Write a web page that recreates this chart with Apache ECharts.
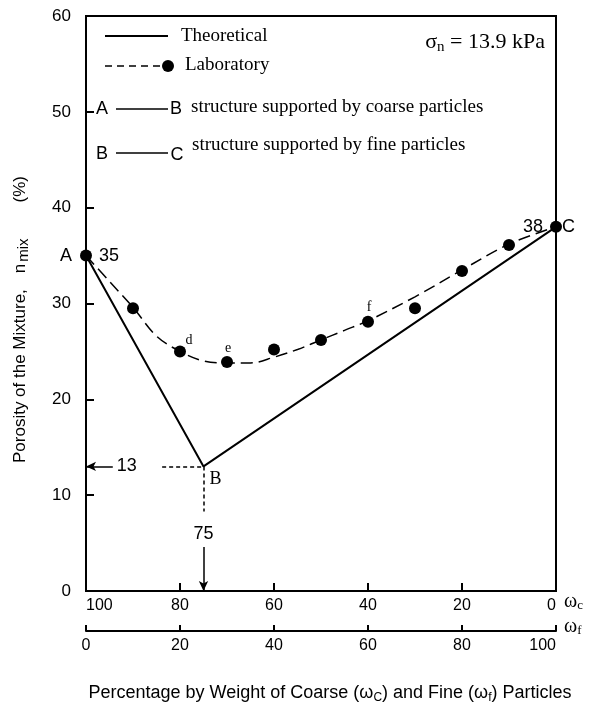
<!DOCTYPE html>
<html>
<head>
<meta charset="utf-8">
<script src="https://cdn.jsdelivr.net/npm/echarts@6/dist/echarts.min.js"></script>
<style>
  html, body { margin: 0; padding: 0; background: #fff; }
  #chart { width: 594px; height: 709px; }
</style>
</head>
<body>
<div id="chart"></div>
<script>
// Laboratory measurements: coarse fraction ω_c (%) against porosity n_mix (%)
const labCoarse   = [100, 90, 80, 70, 60, 50, 40, 30, 20, 10, 0];
const labPorosity = [35, 29.5, 25.0, 23.9, 25.2, 26.2, 28.1, 29.5, 33.4, 36.1, 38];

// Dashed trend drawn through the laboratory results
const trendCoarse   = [100, 95, 90, 85, 80, 75, 70, 65, 60, 55, 50, 45, 40, 30, 20, 10, 0];
const trendPorosity = [35, 32.3, 29.6, 26.6, 25.0, 24.0, 23.8, 23.8, 24.4, 25.2, 26.2, 27.2, 28.2, 30.7, 33.5, 36.2, 38];

// Theoretical bilinear model A -> B -> C
const theoryCoarse   = [100, 75, 0];
const theoryPorosity = [35, 13, 38];
const theoryNames    = ['A', 'B', 'C'];

// Tagged laboratory points (index into labCoarse)
const pointTags = [['d', 2], ['e', 3], ['f', 6]];

// Axis ranges: [min, max, interval]
const coarseRange   = [0, 100, 20];
const fineRange     = [0, 100, 20];
const porosityRange = [0, 60, 10];

const NARROW = '"Liberation Sans", Arial, sans-serif';
const SERIF  = '"Liberation Serif", "DejaVu Serif", serif';
const SANS   = '"Liberation Sans", Arial, sans-serif';
const narrowLabel = (size) => ({ fontFamily: NARROW, fontSize: size });

const chart = echarts.init(document.getElementById('chart'), null, { renderer: 'canvas' });

const B = [theoryCoarse[1], theoryPorosity[1]];

function tagPoint(name, coord, label) {
  return { name, coord, symbol: 'circle', symbolSize: 0, label: Object.assign({ show: true, formatter: '{b}', color: '#000' }, label) };
}

const option = {
  backgroundColor: '#fff',
  animation: false,
  grid: {
    left: 86, right: 38, top: 16, bottom: 118, outerBoundsMode: 'none',
    show: true, borderColor: '#000', borderWidth: 2, backgroundColor: 'transparent'
  },
  xAxis: [
    {
      type: 'value', min: coarseRange[0], max: coarseRange[1], interval: coarseRange[2],
      inverse: true, position: 'bottom',
      axisLine: { onZero: false, lineStyle: { color: '#000', width: 2 } },
      axisTick: { inside: true, length: 8, lineStyle: { color: '#000', width: 2 } },
      axisLabel: Object.assign({ color: '#000', margin: 7, alignMinLabel: 'right', alignMaxLabel: 'left' }, narrowLabel(16)),
      splitLine: { show: false }
    },
    {
      type: 'value', min: fineRange[0], max: fineRange[1], interval: fineRange[2],
      position: 'bottom', offset: 40,
      axisLine: { show: true, onZero: false, lineStyle: { color: '#000', width: 2 } },
      axisTick: { show: true, inside: true, length: 6, lineStyle: { color: '#000', width: 2 } },
      axisLabel: Object.assign({ show: true, color: '#000', margin: 7, alignMaxLabel: 'right' }, narrowLabel(16)),
      splitLine: { show: false },
      name: '{t|Percentage by Weight of Coarse (ω}{sub|C}{t|) and Fine (ω}{sub|f}{t|) Particles}',
      nameLocation: 'middle', nameGap: 50,
      nameTextStyle: {
        padding: [0, 0, 0, 18],
        rich: {
          t: { fontFamily: SANS, fontSize: 18, color: '#000', lineHeight: 24 },
          sub: { fontFamily: SANS, fontSize: 12, color: '#000', padding: [10, 0, 0, 0], lineHeight: 24 }
        }
      }
    }
  ],
  yAxis: {
    type: 'value', min: porosityRange[0], max: porosityRange[1], interval: porosityRange[2],
    axisLine: { show: true, onZero: false, lineStyle: { color: '#000', width: 2 } },
    axisTick: { show: true, inside: true, length: 8, lineStyle: { color: '#000', width: 2 } },
    axisLabel: Object.assign({ color: '#000', margin: 15 }, narrowLabel(17)),
    splitLine: { show: false },
    name: '{t|Porosity of the Mixture,}{g1|n}{sub|mix}{g2|(%)}',
    nameLocation: 'middle', nameGap: 54, nameRotate: 90,
    nameTextStyle: {
      padding: [0, 32, 0, 0],
      rich: {
        t: { fontFamily: SANS, fontSize: 17, color: '#000', lineHeight: 24 },
        g1: { fontFamily: SANS, fontSize: 17, color: '#000', lineHeight: 24, padding: [0, 0, 0, 16] },
        sub: { fontFamily: SANS, fontSize: 15, color: '#000', padding: [8, 0, 0, 2], lineHeight: 24 },
        g2: { fontFamily: SANS, fontSize: 17, color: '#000', lineHeight: 24, padding: [0, 0, 0, 36] }
      }
    }
  },
  series: [
    {
      name: 'Theoretical', type: 'line', xAxisIndex: 0,
      data: theoryCoarse.map((x, i) => [x, theoryPorosity[i]]),
      symbol: 'none', lineStyle: { color: '#000', width: 2 }, z: 3,
      markLine: {
        silent: true, animation: false,
        label: Object.assign({ show: true, position: 'start', formatter: '{b}', color: '#000', distance: 4 }, narrowLabel(18)),
        data: [
          [
            { name: '13', coord: [94.3, B[1]], symbol: 'none', lineStyle: { color: '#000', width: 1.5, type: 'solid' } },
            { coord: [coarseRange[1], B[1]], symbol: 'arrow', symbolSize: [7, 10] }
          ],
          [
            { name: '75', coord: [B[0], 4.6], symbol: 'none', lineStyle: { color: '#000', width: 1.5, type: 'solid' } },
            { coord: [B[0], porosityRange[0]], symbol: 'arrow', symbolSize: [7, 10] }
          ],
          [
            { name: '', coord: [83.8, B[1]], symbol: 'none', lineStyle: { color: '#000', width: 1.5, type: [4, 3] }, label: { show: false } },
            { coord: B, symbol: 'none' }
          ],
          [
            { name: '', coord: B, symbol: 'none', lineStyle: { color: '#000', width: 1.5, type: [4, 3] }, label: { show: false } },
            { coord: [B[0], 8.3], symbol: 'none' }
          ]
        ]
      }
    },
    {
      name: 'Trend', type: 'line', xAxisIndex: 0,
      data: trendCoarse.map((x, i) => [x, trendPorosity[i]]),
      smooth: 0.35, symbol: 'none',
      lineStyle: { color: '#000', width: 1.5, type: [12, 6] }, z: 2
    },
    {
      name: 'Laboratory', type: 'scatter', xAxisIndex: 0,
      data: labCoarse.map((x, i) => [x, labPorosity[i]]),
      symbol: 'circle', symbolSize: 12,
      itemStyle: { color: '#000', opacity: 1 }, z: 4,
      markPoint: {
        silent: true, animation: false,
        data: [
          tagPoint(theoryNames[0], [theoryCoarse[0], theoryPorosity[0]], Object.assign({ position: 'left', distance: 14 }, narrowLabel(18))),
          tagPoint(String(theoryPorosity[0]), [theoryCoarse[0], theoryPorosity[0]], Object.assign({ position: 'right', distance: 13 }, narrowLabel(18))),
          tagPoint(theoryNames[2], [theoryCoarse[2], theoryPorosity[2]], Object.assign({ position: 'right', distance: 6 }, narrowLabel(18))),
          tagPoint(String(theoryPorosity[2]), [theoryCoarse[2], theoryPorosity[2]], Object.assign({ position: 'left', distance: 13 }, narrowLabel(18))),
          tagPoint(theoryNames[1], B, { position: 'inside', offset: [12, 13], fontFamily: SERIF, fontSize: 18 })
        ].concat(pointTags.map(([t, i]) => tagPoint(t, [labCoarse[i], labPorosity[i]], {
          position: 'inside', offset: t === 'd' ? [9, -11] : [1, -14], fontFamily: SERIF, fontSize: 14
        })))
      }
    }
  ],
  graphic: [
    // legend: theoretical
    { type: 'line', shape: { x1: 105, y1: 36, x2: 168, y2: 36 }, style: { stroke: '#000', lineWidth: 2 } },
    { type: 'text', x: 181, y: 36, style: { text: 'Theoretical', font: '19px ' + SERIF, fill: '#000', verticalAlign: 'middle' } },
    // legend: laboratory
    { type: 'line', shape: { x1: 105, y1: 66, x2: 162, y2: 66 }, style: { stroke: '#000', lineWidth: 1.5, lineDash: [7, 5] } },
    { type: 'circle', shape: { cx: 168, cy: 66, r: 6 }, style: { fill: '#000' } },
    { type: 'text', x: 185, y: 65, style: { text: 'Laboratory', font: '19px ' + SERIF, fill: '#000', verticalAlign: 'middle' } },
    // A — B description
    { type: 'text', x: 102, y: 109, style: { text: 'A', font: '18px ' + NARROW, fill: '#000', align: 'center', verticalAlign: 'middle' } },
    { type: 'line', shape: { x1: 116, y1: 109, x2: 168, y2: 109 }, style: { stroke: '#000', lineWidth: 1.5 } },
    { type: 'text', x: 176, y: 109, style: { text: 'B', font: '18px ' + NARROW, fill: '#000', align: 'center', verticalAlign: 'middle' } },
    { type: 'text', x: 191, y: 107, style: { text: 'structure supported by coarse particles', font: '19px ' + SERIF, fill: '#000', verticalAlign: 'middle' } },
    // B — C description
    { type: 'text', x: 102, y: 154, style: { text: 'B', font: '18px ' + NARROW, fill: '#000', align: 'center', verticalAlign: 'middle' } },
    { type: 'line', shape: { x1: 116, y1: 153, x2: 168, y2: 153 }, style: { stroke: '#000', lineWidth: 1.5 } },
    { type: 'text', x: 177, y: 155, style: { text: 'C', font: '18px ' + NARROW, fill: '#000', align: 'center', verticalAlign: 'middle' } },
    { type: 'text', x: 192, y: 145, style: { text: 'structure supported by fine particles', font: '19px ' + SERIF, fill: '#000', verticalAlign: 'middle' } },
    // normal stress
    {
      type: 'text', x: 545, y: 42,
      style: {
        text: '{s|σ}{sub|n}{s| = 13.9 kPa}', align: 'right', verticalAlign: 'middle',
        rich: {
          s: { font: '22px ' + SERIF, fill: '#000', lineHeight: 26 },
          sub: { font: '15px ' + SERIF, fill: '#000', padding: [10, 0, 0, 0], lineHeight: 26 }
        }
      }
    },
    // axis symbols
    {
      type: 'text', x: 564, y: 602,
      style: {
        text: '{w|ω}{sub|c}', verticalAlign: 'middle',
        rich: { w: { font: '20px ' + SERIF, fill: '#000', lineHeight: 22 }, sub: { font: '13px ' + SERIF, fill: '#000', padding: [7, 0, 0, 0], lineHeight: 22 } }
      }
    },
    {
      type: 'text', x: 564, y: 627,
      style: {
        text: '{w|ω}{sub|f}', verticalAlign: 'middle',
        rich: { w: { font: '20px ' + SERIF, fill: '#000', lineHeight: 22 }, sub: { font: '13px ' + SERIF, fill: '#000', padding: [7, 0, 0, 0], lineHeight: 22 } }
      }
    }
  ]
};

chart.setOption(option);
</script>
</body>
</html>
